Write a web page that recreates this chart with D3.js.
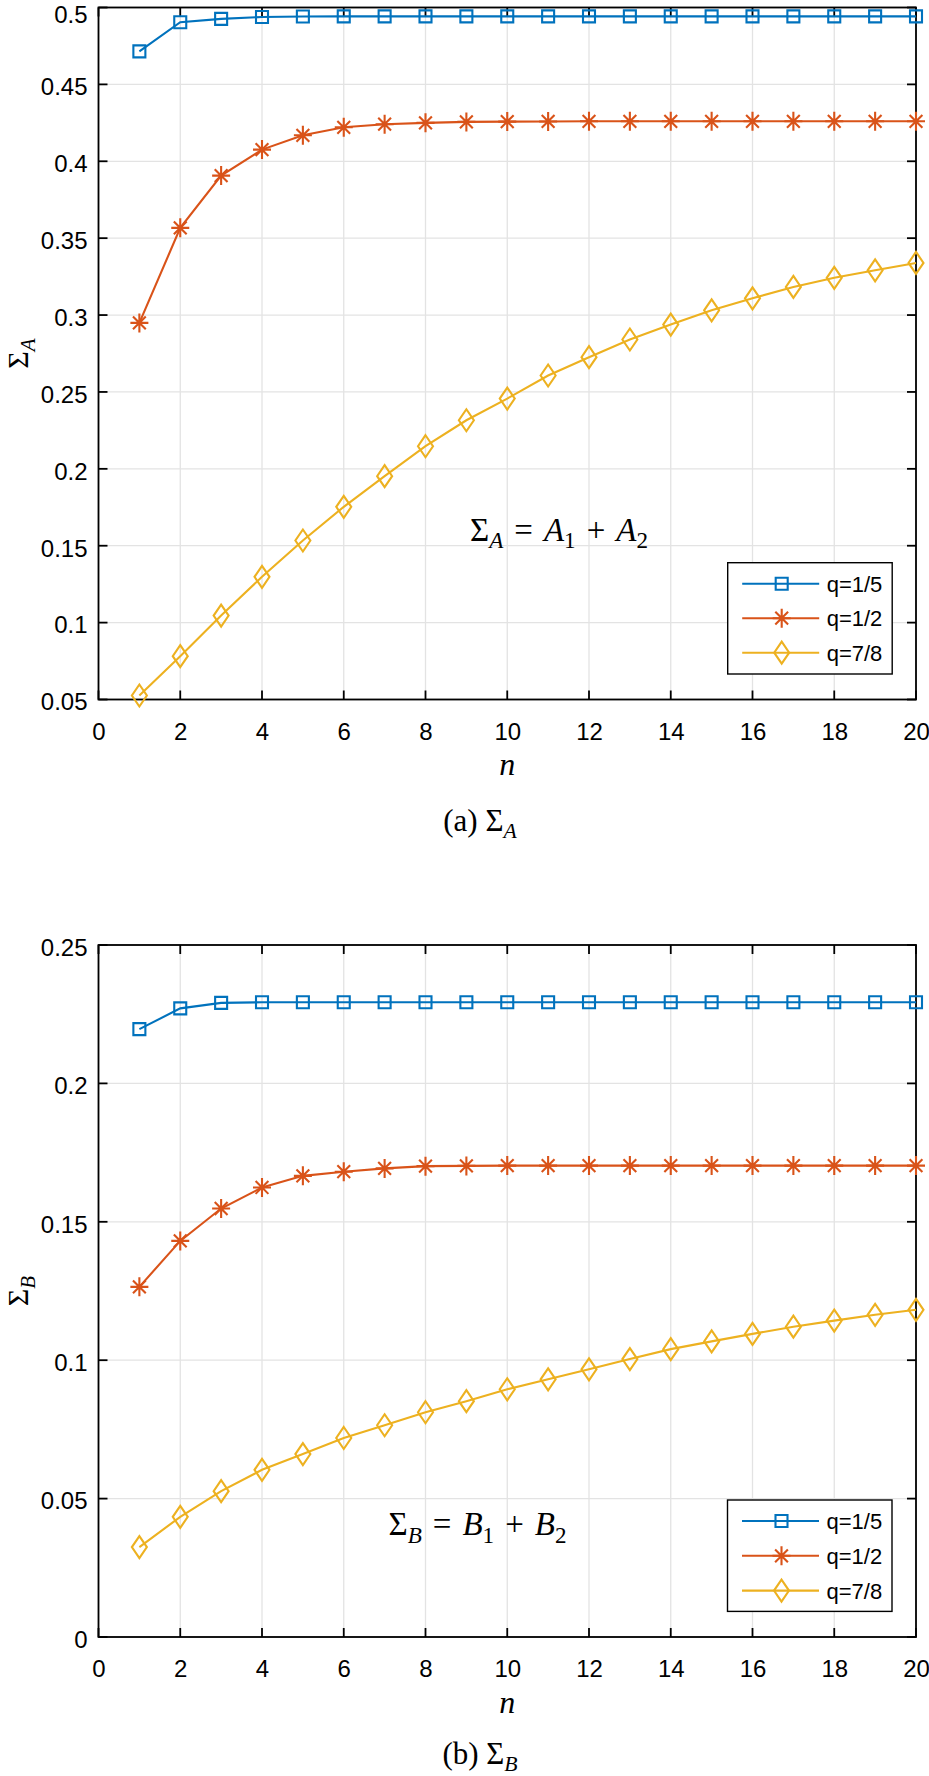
<!DOCTYPE html>
<html><head><meta charset="utf-8">
<script src="https://cdn.jsdelivr.net/npm/d3@7"></script>
<style>body{margin:0;background:#fff} svg{display:block}</style>
</head><body>
<svg id="c" width="929" height="1776"></svg>
<script>
// ---------------- data ----------------
const nValues = [1,2,3,4,5,6,7,8,9,10,11,12,13,14,15,16,17,18,19,20];
const seriesLabels = ["q=1/5", "q=1/2", "q=7/8"];

const sumA_q15 = [0.4715,0.4904,0.4926,0.4938,0.4941,0.4942,0.4942,0.4942,0.4942,0.4942,0.4942,0.4942,0.4942,0.4942,0.4942,0.4942,0.4942,0.4942,0.4942,0.4942];
const sumA_q12 = [0.2949,0.3567,0.3907,0.4076,0.4169,0.4221,0.4241,0.4250,0.4256,0.4258,0.4259,0.4260,0.4260,0.4260,0.4260,0.4260,0.4260,0.4260,0.4260,0.4260];
const sumA_q78 = [0.0526,0.0782,0.1046,0.1298,0.1534,0.1753,0.1952,0.2147,0.2316,0.2457,0.2607,0.2726,0.2841,0.2938,0.3031,0.3109,0.3183,0.3242,0.3291,0.3339];

const sumB_q15 = [0.2196,0.2271,0.2291,0.2293,0.2293,0.2293,0.2293,0.2293,0.2293,0.2293,0.2293,0.2293,0.2293,0.2293,0.2293,0.2293,0.2293,0.2293,0.2293,0.2293];
const sumB_q12 = [0.1265,0.1431,0.1548,0.1624,0.1666,0.1681,0.1693,0.1701,0.1702,0.1703,0.1703,0.1703,0.1703,0.1703,0.1703,0.1703,0.1703,0.1703,0.1703,0.1703];
const sumB_q78 = [0.0325,0.0434,0.0527,0.0604,0.0661,0.0719,0.0765,0.0812,0.0852,0.0895,0.0931,0.0967,0.1004,0.1040,0.1068,0.1095,0.1121,0.1143,0.1164,0.1182];

const xTicks = [0,2,4,6,8,10,12,14,16,18,20];
const yTicksA = [0.05,0.1,0.15,0.2,0.25,0.3,0.35,0.4,0.45,0.5];
const yTicksB = [0,0.05,0.1,0.15,0.2,0.25];

// ---------------- style ----------------
const colors = ["#0072BD", "#D95319", "#EDB120"];
const markers = ["square", "star", "diamond"];
const SANS = "'Liberation Sans', Arial, Helvetica, sans-serif";
const SERIF = "'Liberation Serif', 'Times New Roman', serif";

const svg = d3.select("#c");

function markerPath(kind) {
  if (kind === "square") return "M-6,-6H6V6H-6Z";
  if (kind === "star") return "M-9,0H9M0,-9.5V9.5M-6.4,-6.4L6.4,6.4M-6.4,6.4L6.4,-6.4";
  return "M0,-11L7.5,0L0,11L-7.5,0Z";
}

function mathText(parent, x, y, parts, fs, anchor, rotate) {
  const t = parent.append("text")
    .attr("font-family", SERIF).attr("font-size", fs)
    .attr("text-anchor", anchor || "start").attr("fill", "#000");
  if (rotate) t.attr("transform", `translate(${x},${y}) rotate(${rotate})`);
  else t.attr("x", x).attr("y", y);
  const shift = fs * 0.24;
  let inSub = false;
  parts.forEach(p => {
    const ts = t.append("tspan").text(p.t);
    if (p.i) ts.attr("font-style", "italic");
    if (p.sub) {
      ts.attr("font-size", fs * 0.7);
      if (!inSub) ts.attr("dy", shift);
      inSub = true;
    } else {
      if (inSub) ts.attr("dy", -shift);
      inSub = false;
    }
  });
  return t;
}

function drawPanel(cfg) {
  const g = svg.append("g");
  const x = d3.scaleLinear().domain([0, 20]).range([98.5, 916]);
  const y = d3.scaleLinear().domain(cfg.yDomain).range([cfg.yBot, cfg.yTop]);
  const [X0, X1] = x.range();
  const [Y0, Y1] = [cfg.yBot, cfg.yTop];

  // grid
  g.append("g").selectAll("line").data(xTicks).join("line")
    .attr("x1", d => x(d)).attr("x2", d => x(d)).attr("y1", Y1).attr("y2", Y0)
    .attr("stroke", "#e3e3e3").attr("stroke-width", 1.3);
  g.append("g").selectAll("line").data(cfg.yTicks).join("line")
    .attr("y1", d => y(d)).attr("y2", d => y(d)).attr("x1", X0).attr("x2", X1)
    .attr("stroke", "#e3e3e3").attr("stroke-width", 1.3);

  // axis labels via d3 axes
  const ax = g.append("g").attr("transform", `translate(0,${Y0})`)
    .call(d3.axisBottom(x).tickValues(xTicks).tickSize(0).tickPadding(23).tickFormat(d3.format("d")));
  ax.select(".domain").remove();
  ax.selectAll("text").attr("font-family", SANS).attr("font-size", 24).attr("fill", "#000");

  const ay = g.append("g").attr("transform", `translate(${X0},0)`)
    .call(d3.axisLeft(y).tickValues(cfg.yTicks).tickSize(0).tickPadding(11)
      .tickFormat(d => String(+d.toFixed(2))));
  ay.select(".domain").remove();
  ay.selectAll("text").attr("font-family", SANS).attr("font-size", 24).attr("fill", "#000")
    .attr("dy", d => (y(d) < 20 ? 22 - y(d) : 10.3));

  // box
  g.append("rect").attr("x", X0).attr("y", Y1).attr("width", X1 - X0).attr("height", Y0 - Y1)
    .attr("fill", "none").attr("stroke", "#000").attr("stroke-width", 1.8);
  // inner ticks
  const tl = 9;
  const tk = g.append("g").attr("stroke", "#000").attr("stroke-width", 1.8);
  xTicks.forEach(d => {
    tk.append("line").attr("x1", x(d)).attr("x2", x(d)).attr("y1", Y0).attr("y2", Y0 - tl);
    tk.append("line").attr("x1", x(d)).attr("x2", x(d)).attr("y1", Y1).attr("y2", Y1 + tl);
  });
  cfg.yTicks.forEach(d => {
    tk.append("line").attr("y1", y(d)).attr("y2", y(d)).attr("x1", X0).attr("x2", X0 + tl);
    tk.append("line").attr("y1", y(d)).attr("y2", y(d)).attr("x1", X1).attr("x2", X1 - tl);
  });

  // series
  const line = d3.line().x((d, i) => x(nValues[i])).y(d => y(d));
  cfg.series.forEach((s, k) => {
    g.append("path").datum(s).attr("d", line).attr("fill", "none")
      .attr("stroke", colors[k]).attr("stroke-width", 2.1);
    g.append("g").selectAll("path").data(s).join("path")
      .attr("transform", (d, i) => `translate(${x(nValues[i])},${y(d)})`)
      .attr("d", markerPath(markers[k])).attr("fill", "none")
      .attr("stroke", colors[k]).attr("stroke-width", 2.1);
  });

  // legend
  const L = cfg.legend;
  const lg = g.append("g");
  lg.append("rect").attr("x", L.x).attr("y", L.y).attr("width", 164.5).attr("height", L.h)
    .attr("fill", "#fff").attr("stroke", "#000").attr("stroke-width", 1.4);
  seriesLabels.forEach((lab, k) => {
    const ry = L.y + L.first + k * L.step;
    lg.append("line").attr("x1", L.x + 14.5).attr("x2", L.x + 91.5).attr("y1", ry).attr("y2", ry)
      .attr("stroke", colors[k]).attr("stroke-width", 2.1);
    lg.append("path").attr("transform", `translate(${L.x + 54},${ry})`)
      .attr("d", markerPath(markers[k])).attr("fill", "none")
      .attr("stroke", colors[k]).attr("stroke-width", 2.1);
    lg.append("text").attr("x", L.x + 99).attr("y", ry).attr("dy", "0.36em")
      .attr("font-family", SANS).attr("font-size", 22).text(lab);
  });

  // annotation
  const letter = cfg.letter;
  const sp = "\u2004";
  mathText(g, cfg.ann.x, cfg.ann.y, [
    {t: "\u03A3"}, {t: letter, i: true, sub: true}, {t: sp + "=" + sp},
    {t: letter, i: true}, {t: "1", sub: true}, {t: sp + "+" + sp},
    {t: letter, i: true}, {t: "2", sub: true}
  ], 33, "middle");

  // y label
  mathText(g, 28, (Y0 + Y1) / 2, [{t: "\u03A3"}, {t: letter, i: true, sub: true}], 30, "middle", -90);

  // x label
  g.append("text").attr("x", (X0 + X1) / 2).attr("y", cfg.nY).attr("text-anchor", "middle")
    .attr("font-family", SERIF).attr("font-style", "italic").attr("font-size", 32).text("n");

  // caption
  mathText(g, 480, cfg.capY, [{t: cfg.capTag + " \u03A3"}, {t: letter, i: true, sub: true}], 31, "middle");
}

drawPanel({
  yDomain: [0.05, 0.5], yTop: 7.5, yBot: 699.5, yTicks: yTicksA,
  series: [sumA_q15, sumA_q12, sumA_q78],
  legend: {x: 727.7, y: 562.7, h: 111.3, first: 21, step: 34.5},
  letter: "A", ann: {x: 559, y: 540.5}, nY: 775, capY: 831, capTag: "(a)"
});
drawPanel({
  yDomain: [0, 0.25], yTop: 945, yBot: 1637, yTicks: yTicksB,
  series: [sumB_q15, sumB_q12, sumB_q78],
  legend: {x: 727.5, y: 1500, h: 111.4, first: 21, step: 34.8},
  letter: "B", ann: {x: 477.5, y: 1535}, nY: 1713, capY: 1764, capTag: "(b)"
});
</script>
</body></html>
